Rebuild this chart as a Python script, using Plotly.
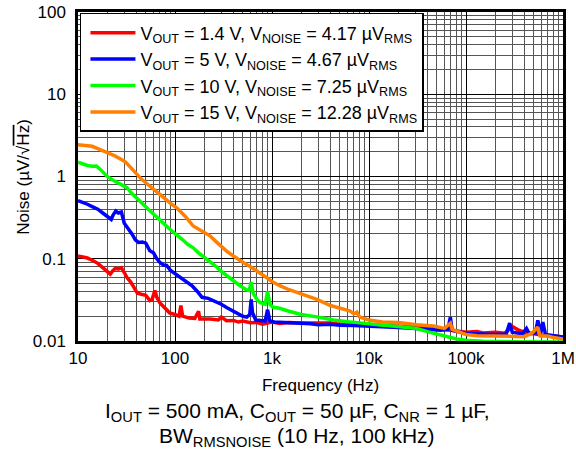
import plotly.graph_objects as go

# ---- data ----
red_f = [10, 11, 12.5, 14, 16, 18, 20, 21.5, 23, 24.5, 26, 28, 30, 32, 35, 38, 41, 45, 50, 55, 58, 62, 65, 70, 78, 88,
         100, 110, 115, 120, 140, 160, 175, 180, 230, 280, 300, 340, 400, 450, 500, 600, 700, 800, 900, 1000, 1200, 1500,
         2000, 3000, 4000, 5000, 7000, 10000, 15000, 20000, 30000, 50000, 70000, 100000, 130000, 150000, 200000, 250000,
         300000, 350000, 400000, 500000, 600000, 800000, 1000000]
red_v = [0.108, 0.106, 0.102, 0.096, 0.088, 0.078, 0.070, 0.065, 0.072, 0.077, 0.075, 0.078, 0.068, 0.059, 0.052, 0.045,
         0.038, 0.037, 0.036, 0.031, 0.032, 0.041, 0.034, 0.029, 0.025, 0.022, 0.021, 0.020, 0.027, 0.020, 0.019, 0.0188,
         0.023, 0.0185, 0.0185, 0.018, 0.0195, 0.0176, 0.0178, 0.0170, 0.0175, 0.0167, 0.0168, 0.0160, 0.0165, 0.0170,
         0.0163, 0.0168, 0.0165, 0.0164, 0.0166, 0.0160, 0.0162, 0.0158, 0.0155, 0.0150, 0.0148, 0.0142, 0.0135, 0.0128,
         0.0130, 0.0125, 0.0128, 0.0124, 0.0150, 0.0135, 0.0128, 0.0122, 0.0118, 0.0115, 0.0112]

blue_f = [10, 11, 12.5, 14, 16, 18, 20, 22, 23, 24.5, 26, 28, 30, 33, 36, 39, 42, 46, 50, 55, 60, 65, 70, 76, 82, 90, 100,
          115, 130, 150, 170, 190, 220, 250, 300, 340, 400, 450, 500, 550, 590, 610, 630, 680, 750, 850, 900, 950, 1050,
          1200, 1500, 2000, 2500, 3000, 4000, 5000, 7000, 10000, 15000, 20000, 30000, 40000, 55000, 65000, 69000, 72000,
          85000, 100000, 150000, 200000, 260000, 282000, 300000, 380000, 420000, 450000, 520000, 550000, 590000, 620000,
          660000, 800000, 1000000]
blue_v = [0.51, 0.49, 0.46, 0.43, 0.40, 0.36, 0.33, 0.30, 0.34, 0.38, 0.36, 0.37, 0.27, 0.235, 0.20, 0.17, 0.158, 0.16,
          0.155, 0.125, 0.118, 0.100, 0.090, 0.084, 0.083, 0.072, 0.066, 0.058, 0.052, 0.047, 0.040, 0.034, 0.033, 0.031,
          0.028, 0.0256, 0.0228, 0.021, 0.020, 0.0195, 0.021, 0.032, 0.022, 0.018, 0.0178, 0.0175, 0.024, 0.0176, 0.0170,
          0.0168, 0.0165, 0.0164, 0.0162, 0.0158, 0.0160, 0.0155, 0.0154, 0.0152, 0.0150, 0.0146, 0.0142, 0.0140, 0.0135,
          0.0138, 0.0195, 0.0135, 0.0128, 0.0124, 0.0122, 0.0120, 0.0122, 0.0165, 0.0128, 0.0122, 0.0142, 0.0122, 0.0125,
          0.0178, 0.0125, 0.0170, 0.0120, 0.0115, 0.0112]

green_f = [10, 11, 12.5, 14, 15.5, 17, 18.5, 20, 23, 26, 29, 32, 36, 41, 47, 53, 60, 70, 80, 90, 104, 120, 135, 154, 175,
           200, 229, 260, 300, 340, 400, 470, 540, 580, 610, 640, 700, 750, 850, 900, 950, 1030, 1200, 1500, 2000, 3000,
           4300, 6000, 8000, 10000, 14000, 20000, 31000, 40000, 50000, 65000, 80000, 100000, 150000, 300000, 1000000]
green_v = [1.49, 1.42, 1.36, 1.33, 1.34, 1.22, 1.08, 1.00, 0.90, 0.84, 0.78, 0.73, 0.62, 0.53, 0.46, 0.40, 0.35, 0.29,
           0.255, 0.225, 0.198, 0.17, 0.150, 0.136, 0.118, 0.104, 0.094, 0.082, 0.070, 0.062, 0.054, 0.047, 0.042, 0.041,
           0.052, 0.038, 0.032, 0.0295, 0.028, 0.040, 0.028, 0.0257, 0.025, 0.023, 0.021, 0.0195, 0.018, 0.0172, 0.0165,
           0.016, 0.0155, 0.015, 0.0142, 0.013, 0.0122, 0.0112, 0.0106, 0.0102, 0.0099, 0.0098, 0.0097]

orange_f = [10, 11, 12.5, 14, 16, 18, 21, 24, 28, 31, 35, 40, 45, 50, 55, 62, 70, 80, 90, 104, 115, 130, 154, 180, 200,
            229, 260, 300, 340, 400, 450, 505, 600, 750, 900, 1000, 1200, 1500, 2000, 2900, 4000, 5000, 6300, 7000, 7500,
            8000, 10000, 13800, 20000, 31000, 46000, 60000, 69000, 72000, 85000, 100000, 130000, 200000, 300000, 400000,
            480000, 550000, 580000, 700000, 800000, 900000, 1000000]
orange_v = [2.44, 2.42, 2.38, 2.33, 2.18, 2.05, 1.94, 1.78, 1.61, 1.50, 1.28, 1.06, 0.93, 0.84, 0.76, 0.68, 0.605, 0.53,
            0.47, 0.417, 0.37, 0.32, 0.25, 0.225, 0.21, 0.19, 0.165, 0.14, 0.124, 0.108, 0.098, 0.090, 0.080, 0.068, 0.058,
            0.053, 0.047, 0.042, 0.037, 0.032, 0.027, 0.025, 0.0233, 0.0215, 0.0225, 0.0195, 0.018, 0.017, 0.0168, 0.0158,
            0.0152, 0.0142, 0.0165, 0.0138, 0.0130, 0.0120, 0.0116, 0.0114, 0.0112, 0.0113, 0.0125, 0.0147, 0.0115, 0.0115,
            0.0110, 0.0108, 0.0106]

series_names = [
    "V<sub>OUT</sub> = 1.4 V, V<sub>NOISE</sub> = 4.17 µV<sub>RMS</sub>",
    "V<sub>OUT</sub> = 5 V, V<sub>NOISE</sub> = 4.67 µV<sub>RMS</sub>",
    "V<sub>OUT</sub> = 10 V, V<sub>NOISE</sub> = 7.25 µV<sub>RMS</sub>",
    "V<sub>OUT</sub> = 15 V, V<sub>NOISE</sub> = 12.28 µV<sub>RMS</sub>",
]
colors = ["#ff0000", "#0000ff", "#00ff00", "#ff8000"]

x_tickvals = [10, 100, 1e3, 1e4, 1e5, 1e6]
x_ticktext = ["10", "100", "1k", "10k", "100k", "1M"]
y_tickvals = [0.01, 0.1, 1, 10, 100]
y_ticktext = ["0.01", "0.1", "1", "10", "100"]
x_minor = [m * 10 ** e for e in range(1, 6) for m in range(2, 10)]
y_minor = [m * 10.0 ** e for e in range(-2, 2) for m in range(2, 10)]

FONT = "Arial, Liberation Sans, sans-serif"

fig = go.Figure()
for f, v, name, c in zip([red_f, blue_f, green_f, orange_f], [red_v, blue_v, green_v, orange_v], series_names, colors):
    fig.add_trace(go.Scatter(x=f, y=v, mode="lines", name=name, line=dict(color=c, width=3.5)))

axis_common = dict(
    type="log", showgrid=True, gridcolor="#000000", gridwidth=1.3, automargin=False,
    showline=True, mirror=True, linecolor="black", linewidth=2.5,
    ticks="", tickfont=dict(family=FONT, size=17, color="black"), zeroline=False,
)

fig.update_layout(
    width=576, height=452,
    margin=dict(l=78, r=13, t=12, b=111),
    paper_bgcolor="white", plot_bgcolor="white",
    font=dict(family=FONT, size=17, color="black"),
    showlegend=True,
    legend=dict(x=0.004, y=0.997, xanchor="left", yanchor="top", bgcolor="white",
                bordercolor="black", borderwidth=1.5, itemwidth=45, indentation=4,
                font=dict(family=FONT, size=18, color="black")),
    xaxis=dict(range=[1, 6], tickvals=x_tickvals, ticktext=x_ticktext, ticklabelstandoff=0,
               minor=dict(tickvals=x_minor, showgrid=True, gridcolor="#555555", gridwidth=1, ticks=""),
               title=dict(text="Frequency (Hz)", font=dict(family=FONT, size=17), standoff=12), **axis_common),
    yaxis=dict(range=[-2, 2], tickvals=y_tickvals, ticktext=y_ticktext, ticklabelstandoff=6,
               minor=dict(tickvals=y_minor, showgrid=True, gridcolor="#555555", gridwidth=1, ticks=""),
               **axis_common),
)

fig.add_annotation(
    xref="paper", yref="paper", x=-0.113, y=0.5, xanchor="center", yanchor="middle", textangle=-90,
    text="Noise (µV/√<span style='text-decoration:overline'>Hz</span>)", showarrow=False,
    font=dict(family=FONT, size=17, color="black"),
)
fig.add_annotation(
    xref="paper", yref="paper", x=0.452, y=-0.216, xanchor="center", yanchor="middle",
    text="I<sub>OUT</sub> = 500 mA, C<sub>OUT</sub> = 50 µF, C<sub>NR</sub> = 1 µF,",
    showarrow=False, font=dict(family=FONT, size=21, color="black"),
)
fig.add_annotation(
    xref="paper", yref="paper", x=0.452, y=-0.292, xanchor="center", yanchor="middle",
    text="BW<sub>RMSNOISE</sub> (10 Hz, 100 kHz)",
    showarrow=False, font=dict(family=FONT, size=21, color="black"),
)

fig.write_html("out.html", config={"displayModeBar": False},
               post_script="document.body.style.margin='0px';document.body.style.overflow='hidden';")
